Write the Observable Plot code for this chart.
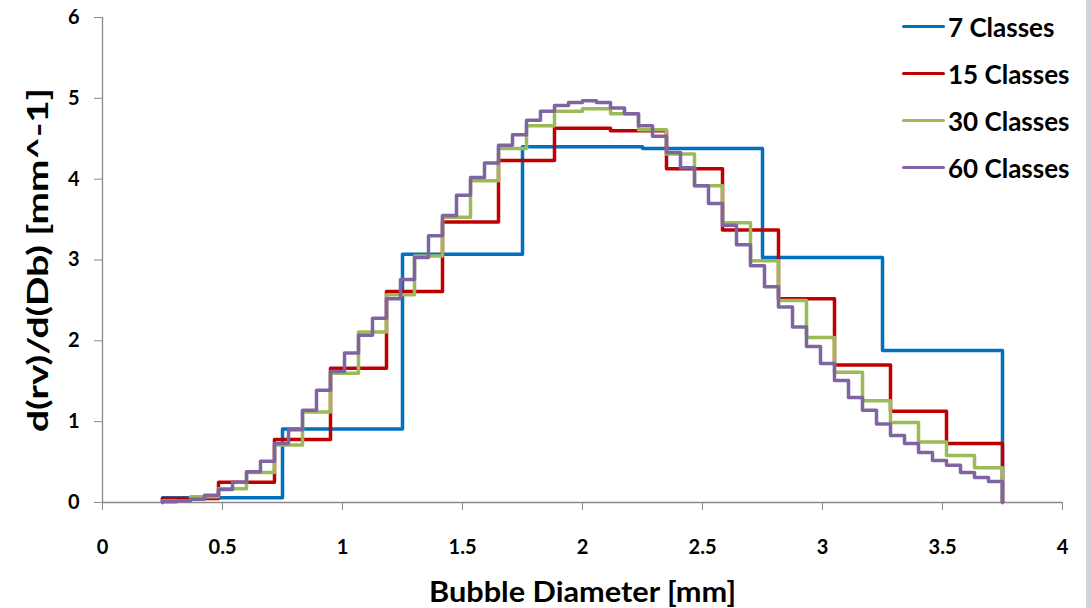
<!DOCTYPE html>
<html>
<head>
<meta charset="utf-8">
<script src="https://cdn.jsdelivr.net/npm/d3@7"></script>
<script src="https://cdn.jsdelivr.net/npm/@observablehq/plot@0.6"></script>
<style>
  html, body { margin: 0; padding: 0; background: #fff; }
  #wrap { position: relative; width: 1091px; height: 608px; overflow: hidden; }
  #edge { position: absolute; left: 1086px; top: 0; width: 5px; height: 608px; background: #d3d3d7; }
  #legend { position: absolute; left: 902px; top: 3px; font-family: Lato, "Open Sans", sans-serif; font-weight: bold; font-size: 26px; color: #000; }
  #legend .row { display: flex; align-items: center; height: 47px; }
  #legend .sw { width: 43px; height: 3.5px; border-radius: 2px; margin-right: 3px; }
</style>
</head>
<body>
<div id="wrap">
  <div id="chart"></div>
  <div id="legend"></div>
  <div id="edge"></div>
</div>
<script>
// Size distribution of bubble diameter, binned into 7, 15, 30 and 60 classes
const seriesNames = ["7 Classes", "15 Classes", "30 Classes", "60 Classes"];
const seriesColors = ["#0070C0", "#C00000", "#9BBB59", "#8064A2"];
const dMin = 0.25;   // first class lower edge [mm]
const dMax = 3.75;   // last class upper edge [mm]

const classes7 = [0.06, 0.91, 3.07, 4.40, 4.38, 3.03, 1.88];
const classes15 = [0.05, 0.25, 0.78, 1.66, 2.61, 3.47, 4.23, 4.63, 4.60, 4.13, 3.37, 2.52, 1.70, 1.13, 0.73];
const classes30 = [0.02, 0.07, 0.17, 0.37, 0.71, 1.12, 1.60, 2.11, 2.57, 3.05,
                   3.53, 3.98, 4.38, 4.66, 4.84, 4.87, 4.81, 4.61, 4.31, 3.92,
                   3.46, 2.99, 2.50, 2.04, 1.61, 1.26, 0.99, 0.75, 0.58, 0.43];
const classes60 = [0.01, 0.02, 0.04, 0.09, 0.16, 0.25, 0.38, 0.51, 0.73, 0.90,
                   1.14, 1.39, 1.62, 1.85, 2.07, 2.28, 2.52, 2.76, 3.03, 3.30,
                   3.55, 3.80, 4.02, 4.20, 4.42, 4.55, 4.73, 4.84, 4.91, 4.95,
                   4.97, 4.95, 4.88, 4.81, 4.66, 4.53, 4.33, 4.14, 3.92, 3.70,
                   3.43, 3.19, 2.93, 2.67, 2.42, 2.17, 1.93, 1.72, 1.51, 1.30,
                   1.14, 0.97, 0.83, 0.73, 0.62, 0.52, 0.46, 0.37, 0.31, 0.26];

const xTicks = [0, 0.5, 1, 1.5, 2, 2.5, 3, 3.5, 4];
const yTicks = [0, 1, 2, 3, 4, 5, 6];
const xTitle = "Bubble Diameter [mm]";
const yTitle = "d(rv)/d(Db) [mm^-1]";

// Each class becomes a step starting at its lower edge; the curve closes to zero at dMax
function steps(name, values) {
  const w = (dMax - dMin) / values.length;
  const rows = [{series: name, d: dMin, v: 0}];
  values.forEach((v, i) => rows.push({series: name, d: dMin + i * w, v}));
  rows.push({series: name, d: dMax, v: 0});
  return rows;
}
const rows = [
  ...steps(seriesNames[0], classes7),
  ...steps(seriesNames[1], classes15),
  ...steps(seriesNames[2], classes30),
  ...steps(seriesNames[3], classes60)
];

const axisGray = "#898989";
const font = "Lato, 'Open Sans', sans-serif";

const chart = Plot.plot({
  width: 1091,
  height: 608,
  marginLeft: 102,
  marginRight: 29,
  marginTop: 17,
  marginBottom: 106,
  style: {fontFamily: font, fontWeight: "bold", background: "transparent", color: "#000"},
  x: {domain: [0, 4]},
  y: {domain: [0, 6]},
  color: {domain: seriesNames, range: seriesColors},
  marks: [
    Plot.axisX({ticks: xTicks, tickSize: 8, tickPadding: 29, stroke: axisGray, fill: "#000",
                fontSize: 20, tickFormat: d => String(d), label: null}),
    Plot.axisY({ticks: yTicks, tickSize: 8, tickPadding: 15, stroke: axisGray, fill: "#000",
                fontSize: 20, tickFormat: d => String(d), label: null}),
    Plot.ruleX([0], {stroke: axisGray, strokeWidth: 1.3}),
    Plot.ruleY([0], {stroke: axisGray, strokeWidth: 1.3}),
    Plot.line(rows, {x: "d", y: "v", z: "series", stroke: "series", curve: "step-after",
                     strokeWidth: 3.5, strokeLinejoin: "round", strokeLinecap: "round"}),
    Plot.text([xTitle], {frameAnchor: "bottom", lineAnchor: "middle", textAnchor: "middle", dy: 90,
                         fontSize: 29, fontWeight: "bold", fill: "#000"}),
    Plot.text([yTitle], {frameAnchor: "left", lineAnchor: "middle", textAnchor: "middle", rotate: -90, dx: -63,
                         fontSize: 28, fontWeight: "bold", fill: "#000"})
  ]
});
document.getElementById("chart").appendChild(chart);

// Axis titles are set to a fixed run length
const titleLengths = new Map([[xTitle, 307], [yTitle, 344]]);
d3.select(chart).selectAll("text")
  .filter(function () { return titleLengths.has(this.textContent); })
  .attr("textLength", function () { return titleLengths.get(this.textContent); })
  .attr("lengthAdjust", "spacingAndGlyphs");

const legend = document.getElementById("legend");
seriesNames.forEach((name, i) => {
  const row = document.createElement("div");
  row.className = "row";
  const sw = document.createElement("div");
  sw.className = "sw";
  sw.style.background = seriesColors[i];
  const label = document.createElement("span");
  label.textContent = name;
  row.appendChild(sw);
  row.appendChild(label);
  legend.appendChild(row);
});
</script>
</body>
</html>
